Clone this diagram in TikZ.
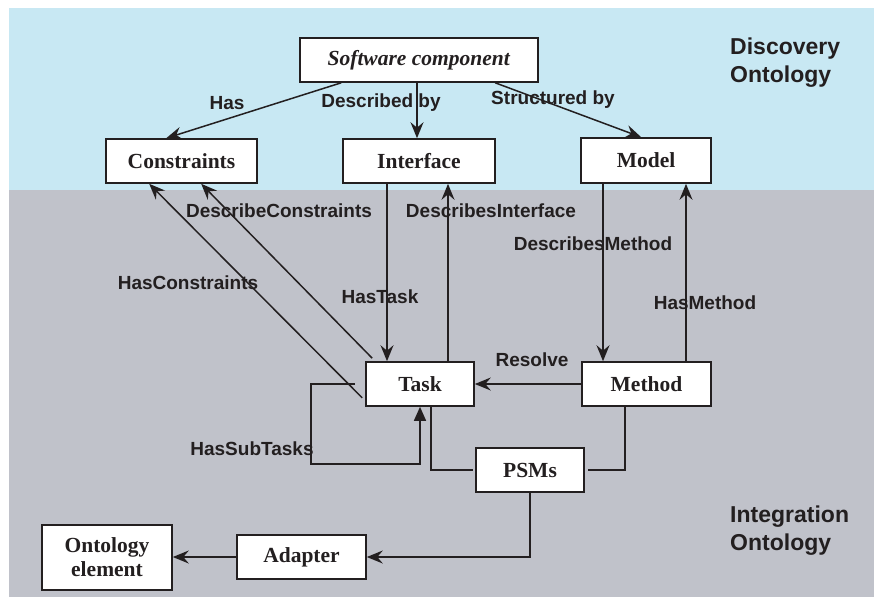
\documentclass[tikz,border=0pt]{standalone}
\usepackage{fontspec}
\setmainfont{Liberation Serif}
\setsansfont{Liberation Sans}
\usetikzlibrary{arrows.meta,calc}
\definecolor{ink}{HTML}{231F20}
\definecolor{skyband}{HTML}{C8E8F3}
\definecolor{greyband}{HTML}{C0C2CA}
\tikzset{
  box/.style={draw=ink, fill=white, line width=1.6pt, inner sep=0pt, text=ink,
    font=\fontsize{21.5}{24}\selectfont\bfseries, align=center},
  conn/.style={draw=ink, line width=1.5pt},
  arr/.style={conn, -{Stealth[length=16pt,width=13pt,inset=5.5pt]}},
  tri/.style={conn, -{Triangle[length=14pt,width=12pt]}},
  lbl/.style={text=ink, font=\fontsize{19}{22}\selectfont\sffamily\bfseries, inner sep=0pt},
  band/.style={text=ink, font=\fontsize{23}{28}\selectfont\sffamily\bfseries, align=left, inner sep=0pt, anchor=west}
}
\begin{document}
\begin{tikzpicture}[x=1pt,y=-1pt]
\useasboundingbox (0,0) rectangle (874,598);
\fill[skyband] (9,8) rectangle (874,190);
\fill[greyband] (9,190) rectangle (874,597);

% nodes
\node[box, minimum width=238pt, minimum height=44pt] (sc) at (419,60) {\textit{Software component}};
\node[box, minimum width=151pt, minimum height=44pt] (cons) at (181.5,161) {Constraints};
\node[box, minimum width=152pt, minimum height=44pt] (intf) at (419,161) {Interface};
\node[box, minimum width=130pt, minimum height=45pt] (model) at (646,160.5) {Model};
\node[box, minimum width=108pt, minimum height=44pt] (task) at (420,384) {Task};
\node[box, minimum width=129pt, minimum height=44pt] (method) at (646.5,384) {Method};
\node[box, minimum width=108pt, minimum height=44pt] (psms) at (530,470) {PSMs};
\node[box, minimum width=130pt, minimum height=65pt] (onto) at (107,557.5) {Ontology\\element};
\node[box, minimum width=129pt, minimum height=44pt] (adapter) at (301.5,557) {Adapter};

% labels
\node[lbl] (lhas) at (227,103) {Has};
\node[lbl] (ldesc) at (381,103) {Described by};
\node[lbl] (lstruct) at (553,100) {Structured by};
\node[lbl] (ldc) at (279,211) {DescribeConstraints};
\node[lbl] (ldi) at (491,211) {DescribesInterface};
\node[lbl] (ldm) at (593,244) {DescribesMethod};
\node[lbl] (lhc) at (188,283) {HasConstraints};
\node[lbl] (lht) at (380,297) {HasTask};
\node[lbl] (lhm) at (705,303) {HasMethod};
\node[lbl] (lres) at (532,360) {Resolve};
\node[lbl] (lhst) at (252,449) {HasSubTasks};
\node[band] (disc) at (730,63) {Discovery\\Ontology};
\node[band] (integ) at (730,530.5) {Integration\\Ontology};

% connectors
\draw[arr] ([xshift=42pt]sc.south west) -- ([xshift=61pt]cons.north west);
\draw[arr] ([xshift=-2pt]sc.south) -- ([xshift=-2pt]intf.north);
\draw[arr] ([xshift=196pt]sc.south west) -- ([xshift=61pt]model.north west);

\draw[arr] ([xshift=7pt,yshift=3pt]task.north west) -- ([xshift=96pt]cons.south west);
\draw[arr] ([xshift=-3pt,yshift=9pt]task.south west) -- ([xshift=44pt]cons.south west);

\draw[arr] ([xshift=-32pt]intf.south) -- ([xshift=-33pt]task.north);
\draw[arr] ([xshift=28pt]task.north) -- ([xshift=29pt]intf.south);
\draw[arr] ([xshift=-43pt]model.south) -- ([xshift=-43.5pt]method.north);
\draw[arr] ([xshift=39.5pt]method.north) -- ([xshift=40pt]model.south);
\draw[arr] (method.west) -- (task.east);

\draw[tri] ([xshift=-10pt]task.west) -- ++(-44,0) |- ([yshift=-57pt]task.south) -- (task.south);

\draw[conn] ([xshift=11pt]task.south) |- ([xshift=-2pt]psms.west);
\draw[conn] ([xshift=-21.5pt]method.south) |- ([xshift=3pt]psms.east);
\draw[arr] (psms.south) |- (adapter.east);
\draw[arr] (adapter.west) -- (adapter.west -| onto.east);
\end{tikzpicture}
\end{document}
